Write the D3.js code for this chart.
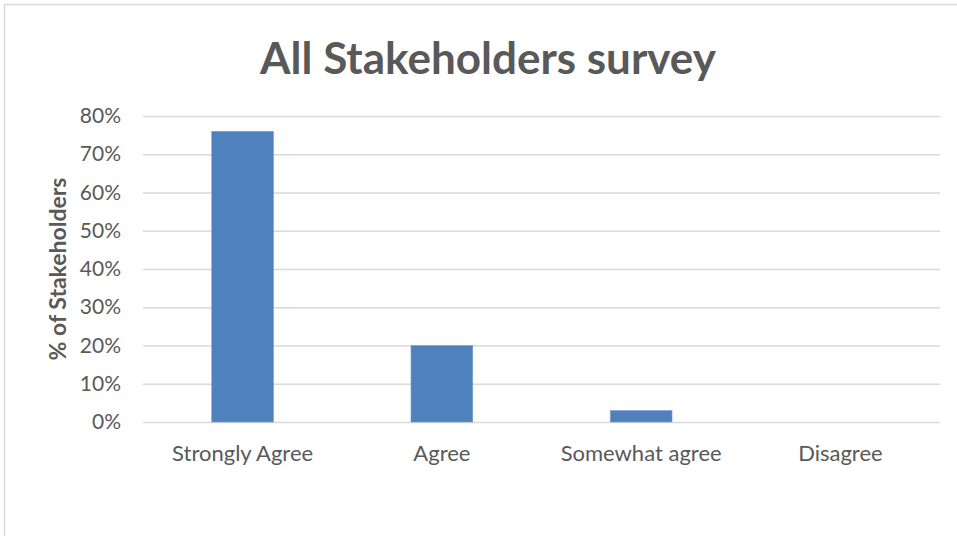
<!DOCTYPE html>
<html lang="en">
<head>
    <meta charset="UTF-8">
    <title>All Stakeholders survey</title>
    <style>
        body { margin: 0; background: #fff; }
        .domain { display: none; }
        text { font-family: Lato, "Open Sans", sans-serif; fill: #595959; }
    </style>
</head>
<body>
    <svg width="957" height="536" id="svg"></svg>
    <script src="https://d3js.org/d3.v7.min.js"></script>
    <script>
        // data
        const categories = ["Strongly Agree", "Agree", "Somewhat agree", "Disagree"]
        const values = [0.76, 0.20, 0.03, 0]
        const yTicks = [0, 0.1, 0.2, 0.3, 0.4, 0.5, 0.6, 0.7, 0.8]
        const title = "All Stakeholders survey"
        const yLabel = "% of Stakeholders"

        const svg = d3.select("svg#svg")
        const padding = { top: 116, left: 143, right: 17, bottom: 114 }
        const width = +svg.attr("width")
        const height = +svg.attr("height")
        const innerWidth = width - padding.left - padding.right
        const innerHeight = height - padding.top - padding.bottom

        // outer frame (only top and left visible)
        svg.append("path")
            .attr("d", `M4.5,${height} V4.5 H${width}`)
            .attr("fill", "none")
            .attr("stroke", "#d9d9d9")
            .attr("stroke-width", 1.5)

        const xScale = d3.scaleBand().domain(categories).range([0, innerWidth])
            .paddingInner(0.69).paddingOuter(0.345)
        const yScale = d3.scaleLinear().domain([0, 0.8]).range([innerHeight, 0])

        const g = svg.append("g").attr("transform", `translate(${padding.left}, ${padding.top})`)

        // grid + y axis
        const yAxis = g.append("g").call(d3.axisLeft(yScale).tickValues(yTicks)
            .tickSize(-innerWidth).tickPadding(22).tickFormat(d3.format(".0%")))
        yAxis.selectAll(".tick line").attr("stroke", "#d9d9d9").attr("stroke-width", 1.5)
        yAxis.selectAll(".tick text").attr("font-size", 21)

        // bars
        g.selectAll("rect.bar")
            .data(values)
            .join("rect")
            .attr("class", "bar")
            .attr("x", (d, i) => xScale(categories[i]))
            .attr("y", d => yScale(d))
            .attr("width", xScale.bandwidth())
            .attr("height", d => innerHeight - yScale(d))
            .attr("fill", "#4f81bd")
            .attr("stroke", "#7ba0cd")
            .attr("stroke-width", 0.6)

        // x axis
        const xAxis = g.append("g").attr("transform", `translate(0, ${innerHeight})`)
            .call(d3.axisBottom(xScale).tickSize(0).tickPadding(23))
        xAxis.selectAll(".tick text").attr("font-size", 22)

        // title
        svg.append("text")
            .attr("x", 488).attr("y", 74)
            .attr("text-anchor", "middle")
            .attr("font-size", 44)
            .attr("font-weight", "bold")
            .text(title)

        // y label
        svg.append("text")
            .attr("transform", `translate(66, ${padding.top + innerHeight / 2}) rotate(-90)`)
            .attr("text-anchor", "middle")
            .attr("font-size", 23)
            .attr("font-weight", "bold")
            .text(yLabel)
    </script>
</body>
</html>
